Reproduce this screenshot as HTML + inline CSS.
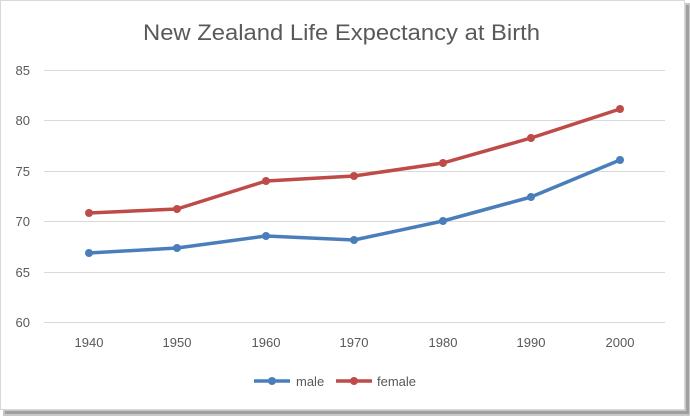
<!DOCTYPE html>
<html><head><meta charset="utf-8"><style>
body{margin:0;background:#fff;width:690px;height:416px;overflow:hidden}
svg{display:block;font-family:"Liberation Sans",sans-serif}
</style></head><body>
<svg width="690" height="416" xmlns="http://www.w3.org/2000/svg">
<rect x="0" y="0" width="690" height="416" fill="#fff"/>
<rect x="3" y="410" width="687" height="6" fill="#c8c8c8"/>
<rect x="685" y="3" width="5" height="413" fill="#c8c8c8"/>
<rect x="686" y="5" width="3" height="409" fill="#a0a0a0"/>
<rect x="5" y="411" width="682" height="3" fill="#a0a0a0"/>
<rect x="0.5" y="0.5" width="684" height="409" fill="#fff" stroke="#d9d9d9"/>
<text x="143" y="40" font-size="22" fill="#595959" textLength="397" lengthAdjust="spacingAndGlyphs">New Zealand Life Expectancy at Birth</text>
<g stroke="#d9d9d9" stroke-width="1">
<line x1="44" x2="665" y1="70.5" y2="70.5"/>
<line x1="44" x2="665" y1="120.5" y2="120.5"/>
<line x1="44" x2="665" y1="171.5" y2="171.5"/>
<line x1="44" x2="665" y1="221.5" y2="221.5"/>
<line x1="44" x2="665" y1="272.5" y2="272.5"/>
<line x1="44" x2="665" y1="322.5" y2="322.5"/>
</g>
<g font-size="13" fill="#595959" text-anchor="end">
<text x="30" y="75">85</text><text x="30" y="125">80</text><text x="30" y="176">75</text>
<text x="30" y="226">70</text><text x="30" y="277">65</text><text x="30" y="327">60</text>
</g>
<g font-size="13" fill="#595959" text-anchor="middle">
<text x="89" y="347">1940</text><text x="177" y="347">1950</text><text x="266" y="347">1960</text>
<text x="354" y="347">1970</text><text x="443" y="347">1980</text><text x="531" y="347">1990</text><text x="620" y="347">2000</text>
</g>
<polyline fill="none" stroke="#4a7ebb" stroke-width="3.5" stroke-linejoin="round" points="89,253 177,248 266,236 354,240 443,221 531,197 620,160"/>
<polyline fill="none" stroke="#be4b48" stroke-width="3.5" stroke-linejoin="round" points="89,213 177,209 266,181 354,176 443,163 531,138 620,109"/>
<g fill="#4a7ebb"><circle cx="89" cy="253" r="4"/><circle cx="177" cy="248" r="4"/><circle cx="266" cy="236" r="4"/><circle cx="354" cy="240" r="4"/><circle cx="443" cy="221" r="4"/><circle cx="531" cy="197" r="4"/><circle cx="620" cy="160" r="4"/></g>
<g fill="#be4b48"><circle cx="89" cy="213" r="4"/><circle cx="177" cy="209" r="4"/><circle cx="266" cy="181" r="4"/><circle cx="354" cy="176" r="4"/><circle cx="443" cy="163" r="4"/><circle cx="531" cy="138" r="4"/><circle cx="620" cy="109" r="4"/></g>
<line x1="254" x2="290" y1="381" y2="381" stroke="#4a7ebb" stroke-width="3.5"/><circle cx="272" cy="381" r="4" fill="#4a7ebb"/>
<text x="296" y="386" font-size="13" fill="#595959">male</text>
<line x1="336" x2="372" y1="381" y2="381" stroke="#be4b48" stroke-width="3.5"/><circle cx="354" cy="381" r="4" fill="#be4b48"/>
<text x="377" y="386" font-size="13" fill="#595959">female</text>
</svg>
</body></html>
